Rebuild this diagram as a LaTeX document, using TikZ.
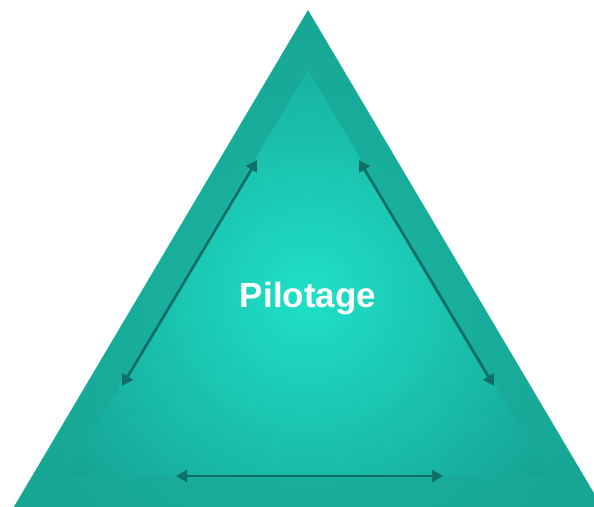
\documentclass[tikz,border=0pt]{standalone}
\usepackage{fontspec}
\setmainfont{Liberation Sans}
\usetikzlibrary{arrows.meta}
\begin{document}
\begin{tikzpicture}[x=1pt,y=-1pt,
  dblarrow/.style={draw=arrowteal, line width=2.8pt, {Triangle[length=11pt,width=12pt]}-{Triangle[length=11pt,width=12pt]}},
  label/.style={text=white, font=\bfseries\fontsize{35}{40}\selectfont, inner sep=0pt}]
\definecolor{arrowteal}{HTML}{0F6F67}
\definecolor{outerin}{HTML}{1AB6A2}
\definecolor{outerout}{HTML}{15998A}
\definecolor{innerin}{HTML}{1FE0C8}
\definecolor{innerout}{HTML}{118A7D}
\useasboundingbox (0,0) rectangle (594,506);
\clip (0,0) rectangle (594,506);
% outer triangle
\begin{scope}
\clip (308,10) -- (604,510) -- (12,510) -- cycle;
\shade[inner color=outerin, outer color=outerout] (308,320) circle[radius=560];
\end{scope}
% inner triangle
\begin{scope}
\clip (308,70) -- (548,475) -- (67,475) -- cycle;
\shade[inner color=innerin, outer color=innerout] (308,295) circle[radius=420];
\end{scope}
\node[label] (t) at (308,299) {Pilotage};
\coordinate (l1) at (257,160);
\coordinate (l2) at (122,386);
\coordinate (r1) at (359,160);
\coordinate (r2) at (494,386);
\coordinate (b1) at (176,476);
\coordinate (b2) at (443,476);
\draw[dblarrow] (l1) -- (l2);
\draw[dblarrow] (r1) -- (r2);
\draw[dblarrow] (b1) -- (b2);
\end{tikzpicture}
\end{document}
